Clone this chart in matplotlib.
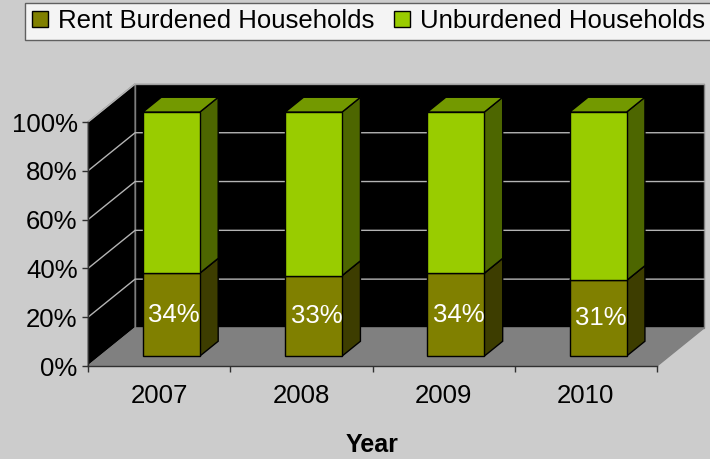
import matplotlib
matplotlib.use("Agg")
import matplotlib.pyplot as plt
from matplotlib.patches import Polygon
from matplotlib.lines import Line2D

plt.rcParams['font.family'] = ['Liberation Sans', 'DejaVu Sans']

years = ['2007', '2008', '2009', '2010']
burdened = [34, 33, 34, 31]
unburdened = [100 - b for b in burdened]
yticks = [0, 20, 40, 60, 80, 100]

# 3d look: depth offset of the back wall in data units
DX, DY = 0.331, 15.6
Z0, Z1 = 0.26, 0.65   # bar depth range
BW = 0.4


def proj(x, y, z):
    return (x + DX * z, y + DY * z)


def poly(ax, pts, fc, ec, lw=0.8, zo=1):
    ax.add_patch(Polygon(pts, closed=True, facecolor=fc, edgecolor=ec,
                         linewidth=lw, clip_on=False, zorder=zo))


fig = plt.figure(figsize=(7.1, 4.59), dpi=100)
fig.patch.set_facecolor('#cccccc')
ax = fig.add_axes([88 / 710, (459 - 366) / 459, (657 - 88) / 710, (366 - 122) / 459])
ax.set_facecolor('none')
ax.set_xlim(0, len(years))
ax.set_ylim(0, 100)

n = len(years)
# walls and floor
poly(ax, [proj(0, 0, 1), proj(n, 0, 1), proj(n, 100, 1), proj(0, 100, 1)], 'black', '#808080', 1, 0.5)
poly(ax, [proj(0, 0, 0), proj(0, 0, 1), proj(0, 100, 1), proj(0, 100, 0)], 'black', '#808080', 1, 0.5)
poly(ax, [proj(0, 0, 0), proj(n, 0, 0), proj(n, 0, 1), proj(0, 0, 1)], '#808080', '#808080', 1, 0.6)

for v in yticks[1:]:
    a, b = proj(0, v, 0), proj(0, v, 1)
    c = proj(n, v, 1)
    ax.plot([a[0], b[0], c[0]], [a[1], b[1], c[1]], color='#b4b4b4', lw=1,
            clip_on=False, zorder=0.7)

# stacked 3d bars
for i in range(n):
    x0 = i + 0.5 - BW / 2
    x1 = x0 + BW
    segs = [(0, burdened[i], '#808000', '#3d3d00', '#5c5c00'),
            (burdened[i], 100, '#99cc00', '#4d6600', '#739900')]
    for lo, hi, front, side, top in segs:
        poly(ax, [proj(x1, lo, Z0), proj(x1, lo, Z1), proj(x1, hi, Z1), proj(x1, hi, Z0)], side, 'black', 1, 2)
        poly(ax, [proj(x0, hi, Z0), proj(x1, hi, Z0), proj(x1, hi, Z1), proj(x0, hi, Z1)], top, 'black', 1, 2)
        poly(ax, [proj(x0, lo, Z0), proj(x1, lo, Z0), proj(x1, hi, Z0), proj(x0, hi, Z0)], front, 'black', 1, 3)
    cx, cy = proj(i + 0.5, burdened[i] / 2, Z0)
    ax.text(cx + 0.02, cy, f'{burdened[i]}%', color='white', fontsize=18.5,
            ha='center', va='center', zorder=4)

# axes
for s in ['top', 'right']:
    ax.spines[s].set_visible(False)
for s in ['left', 'bottom']:
    ax.spines[s].set_color('#303030')
    ax.spines[s].set_linewidth(1)
    ax.spines[s].set_zorder(5)
ax.set_yticks(yticks)
ax.set_yticklabels([f'{v}%' for v in yticks])
ax.set_xticks([i + 0.5 for i in range(n)])
ax.set_xticklabels(years)
ax.set_xticks(range(n + 1), minor=True)
ax.tick_params(axis='y', labelsize=18.5, length=4.5, width=1, color='#303030', pad=3)
ax.tick_params(axis='x', which='major', labelsize=18.5, length=0, pad=13)
ax.tick_params(axis='x', which='minor', length=4, width=1, color='#303030')

fig.text(372 / 710, 1 - 445 / 459, 'Year', fontsize=18, fontweight='bold',
         ha='center', va='center')

handles = [Line2D([], [], marker='s', linestyle='', markersize=11,
                  markerfacecolor='#808000', markeredgecolor='black'),
           Line2D([], [], marker='s', linestyle='', markersize=11,
                  markerfacecolor='#99cc00', markeredgecolor='black')]
leg = fig.legend(handles, ['Rent Burdened Households', 'Unburdened Households'],
                 loc='upper center', bbox_to_anchor=(368 / 710, 1 - 3 / 459),
                 ncol=2, fontsize=18.5, frameon=True, fancybox=False,
                 handlelength=0.7, handletextpad=0.35, columnspacing=0.7,
                 borderpad=0.25, borderaxespad=0)
leg.get_frame().set_edgecolor('#404040')
leg.get_frame().set_linewidth(1)

fig.savefig('out.png', dpi=100, facecolor=fig.get_facecolor())
